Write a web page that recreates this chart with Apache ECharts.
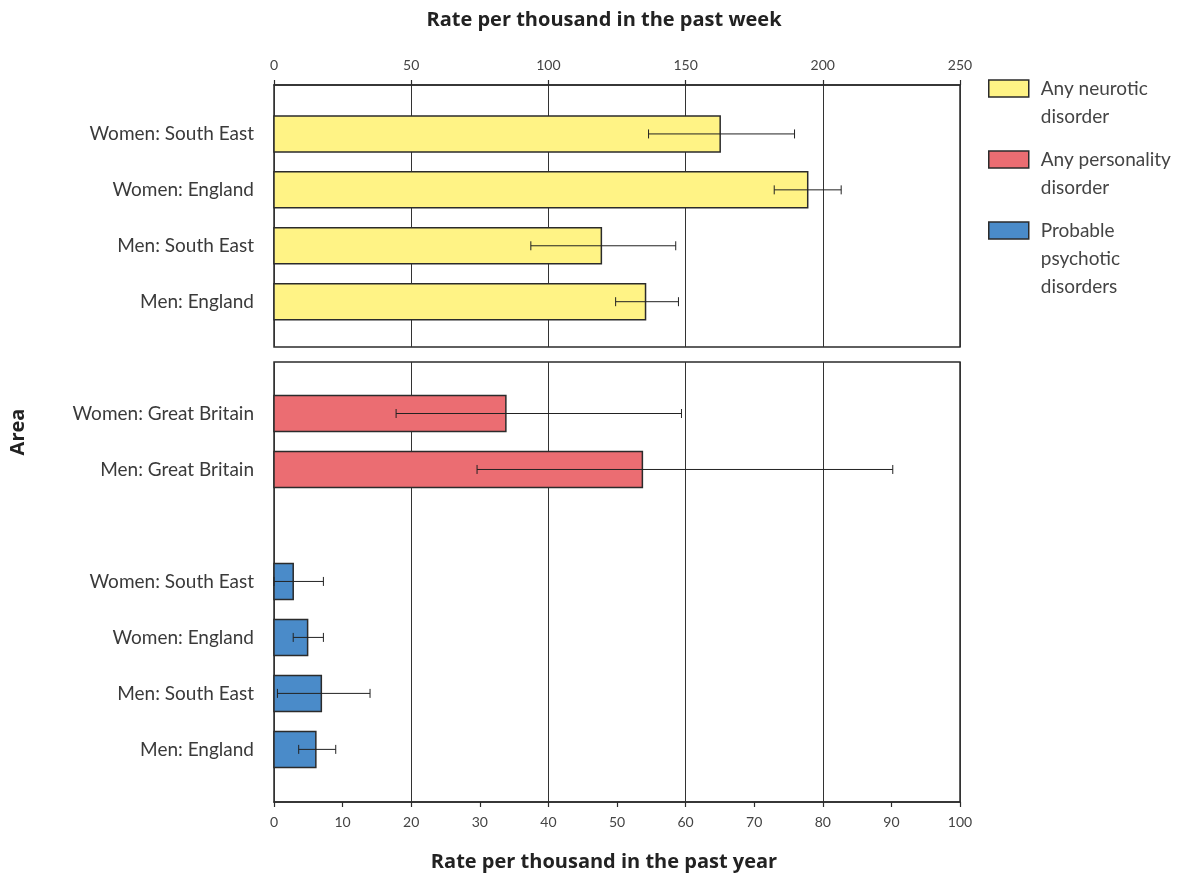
<!DOCTYPE html>
<html>
<head>
<meta charset="utf-8">
<script src="https://cdn.jsdelivr.net/npm/echarts@6/dist/echarts.min.js"></script>
<style>html,body{margin:0;padding:0;background:#fff;}#main{width:1189px;height:877px;}</style>
</head>
<body>
<div id="main"></div>
<script>
// ---- data ----
var neuroticCats = ['Women: South East', 'Women: England', 'Men: South East', 'Men: England'];
var neuroticVals = [162.6, 194.5, 119.3, 135.4];
var neuroticLow  = [136.5, 182.3, 93.6, 124.5];
var neuroticHigh = [189.7, 206.7, 146.4, 147.4];

var personalityCats = ['Women: Great Britain', 'Men: Great Britain'];
var personalityVals = [33.8, 53.7];
var personalityLow  = [17.8, 29.6];
var personalityHigh = [59.4, 90.2];

var psychoticCats = ['Women: South East', 'Women: England', 'Men: South East', 'Men: England'];
var psychoticVals = [2.8, 4.9, 6.9, 6.1];
var psychoticLow  = [0, 2.8, 0.5, 3.6];
var psychoticHigh = [7.2, 7.2, 14.0, 9.0];

var weekTicks = [0, 50, 100, 150, 200, 250];
var yearTicks = [0, 10, 20, 30, 40, 50, 60, 70, 80, 90, 100];

var seriesNames = ['Any neurotic disorder', 'Any personality disorder', 'Probable psychotic disorders'];
var legendLines = {
  'Any neurotic disorder': ['Any neurotic', 'disorder'],
  'Any personality disorder': ['Any personality', 'disorder'],
  'Probable psychotic disorders': ['Probable', 'psychotic', 'disorders']
};

// ---- layout helpers ----
var FONT = 'Lato, "Open Sans", sans-serif';
var TITLE_FONT = '"Open Sans", Lato, sans-serif';
var EDGE = '#2b2b2b';

// slot positions: top panel 0..3 ; bottom panel personality 0..1, gap, psychotic 3..6
var topPos = neuroticCats.map(function (c, i) { return i; });
var persPos = personalityCats.map(function (c, i) { return i; });
var psyPos = psychoticCats.map(function (c, i) { return i + personalityCats.length + 1; });
var bottomLabels = {};
persPos.forEach(function (p, i) { bottomLabels[p] = personalityCats[i]; });
psyPos.forEach(function (p, i) { bottomLabels[p] = psychoticCats[i]; });

function zip2(a, b) { return a.map(function (v, i) { return [v, b[i]]; }); }
function zip3(a, b, c) { return a.map(function (v, i) { return [v, b[i], c[i]]; }); }

function barRender(params, api) {
  var y = api.value(1);
  var s = api.coord([0, y]);
  var e = api.coord([api.value(0), y]);
  return {
    type: 'rect',
    shape: { x: s[0], y: s[1] - 18, width: e[0] - s[0], height: 36 },
    style: { fill: api.visual('color'), stroke: EDGE, lineWidth: 1.5 }
  };
}
function errRender(params, api) {
  var y = api.value(2);
  var p1 = api.coord([api.value(0), y]);
  var p2 = api.coord([api.value(1), y]);
  var h = 4.5;
  var st = { stroke: '#222', lineWidth: 1 };
  return {
    type: 'group',
    children: [
      { type: 'line', shape: { x1: p1[0], y1: p1[1], x2: p2[0], y2: p2[1] }, style: st },
      { type: 'line', shape: { x1: p1[0], y1: p1[1] - h, x2: p1[0], y2: p1[1] + h }, style: st },
      { type: 'line', shape: { x1: p2[0], y1: p2[1] - h, x2: p2[0], y2: p2[1] + h }, style: st }
    ]
  };
}

var colors = ['#fff385', '#eb6d72', '#4a8bc9'];

// legend: icon aligned with first text line -> pad with (n-1) leading empty lines
function makeLegend(name, iconTop) {
  var lines = legendLines[name];
  var n = lines.length, L = 28, ih = 17;
  var top = iconTop + ih / 2 - (2 * n - 1) * L / 2;
  return {
    data: [{ name: name, icon: 'rect' }],
    orient: 'vertical',
    left: 988,
    top: top,
    padding: 0,
    itemWidth: 40,
    itemHeight: ih,
    itemGap: 0,
    selectedMode: false,
    itemStyle: { borderColor: EDGE, borderWidth: 1.5 },
    formatter: function (nm) {
      var l = legendLines[nm];
      return new Array(l.length).join('\u00a0\n') + l.join('\n');
    },
    textStyle: { fontFamily: FONT, fontSize: 19, lineHeight: L, color: '#444', padding: [0, 0, 0, 7] }
  };
}

var option = {
  animation: false,
  backgroundColor: '#fff',
  legend: [
    makeLegend(seriesNames[0], 80),
    makeLegend(seriesNames[1], 151),
    makeLegend(seriesNames[2], 222)
  ],
  grid: [
    { left: 274, width: 686, top: 85, height: 262, show: true, borderColor: EDGE, borderWidth: 1.5, backgroundColor: 'transparent' },
    { left: 274, width: 686, top: 362, height: 440, show: true, borderColor: EDGE, borderWidth: 1.5, backgroundColor: 'transparent' }
  ],
  xAxis: [
    {
      gridIndex: 0, type: 'value', position: 'top',
      min: weekTicks[0], max: weekTicks[weekTicks.length - 1], interval: weekTicks[1] - weekTicks[0],
      axisLine: { show: true, onZero: false, lineStyle: { color: EDGE, width: 1.5 } },
      axisTick: { show: true, inside: false, length: 5, lineStyle: { color: EDGE, width: 1.2 } },
      axisLabel: { margin: 13, fontFamily: FONT, fontSize: 14, color: '#444' },
      splitLine: { show: true, lineStyle: { color: '#333', width: 1 } }
    },
    {
      gridIndex: 1, type: 'value', position: 'bottom',
      min: yearTicks[0], max: yearTicks[yearTicks.length - 1], interval: yearTicks[1] - yearTicks[0],
      axisLine: { show: true, onZero: false, lineStyle: { color: EDGE, width: 1.5 } },
      axisTick: { show: true, inside: false, length: 5, lineStyle: { color: EDGE, width: 1.2 } },
      axisLabel: { margin: 13, fontFamily: FONT, fontSize: 14, color: '#444' },
      splitLine: { show: false }
    },
    {
      gridIndex: 1, type: 'value', position: 'bottom',
      min: yearTicks[0], max: yearTicks[yearTicks.length - 1], interval: (yearTicks[1] - yearTicks[0]) * 2,
      axisLine: { show: false, onZero: false }, axisTick: { show: false }, axisLabel: { show: false },
      splitLine: { show: true, lineStyle: { color: '#333', width: 1 } }
    }
  ],
  yAxis: [
    {
      gridIndex: 0, type: 'value', inverse: true, min: -0.875, max: 3.81,
      axisLine: { show: false, onZero: false }, axisTick: { show: false }, splitLine: { show: false },
      axisLabel: {
        customValues: topPos, margin: 20, fontFamily: FONT, fontSize: 19, color: '#3a3a3a',
        formatter: function (v) { return neuroticCats[Math.round(v)] || ''; }
      }
    },
    {
      gridIndex: 1, type: 'value', inverse: true, min: -0.92, max: 6.94,
      axisLine: { show: false, onZero: false }, axisTick: { show: false }, splitLine: { show: false },
      axisLabel: {
        customValues: persPos.concat(psyPos), margin: 20, fontFamily: FONT, fontSize: 19, color: '#3a3a3a',
        formatter: function (v) { return bottomLabels[Math.round(v)] || ''; }
      }
    }
  ],
  graphic: [
    { type: 'text', style: { text: 'Rate per thousand in the past week', x: 604, y: 20, align: 'center', verticalAlign: 'middle', font: 'bold 20px ' + TITLE_FONT, fill: '#222' } },
    { type: 'text', style: { text: 'Rate per thousand in the past year', x: 604, y: 862, align: 'center', verticalAlign: 'middle', font: 'bold 20px ' + TITLE_FONT, fill: '#222' } },
    { type: 'text', x: 18, y: 432, rotation: Math.PI / 2, style: { text: 'Area', x: 0, y: 0, align: 'center', verticalAlign: 'middle', font: 'bold 20px ' + TITLE_FONT, fill: '#222' } }
  ],
  series: [
    {
      name: seriesNames[0], type: 'custom', xAxisIndex: 0, yAxisIndex: 0,
      itemStyle: { color: colors[0], borderColor: EDGE, borderWidth: 1.5 },
      renderItem: barRender, encode: { x: 0, y: 1 }, data: zip2(neuroticVals, topPos), z: 3
    },
    {
      name: seriesNames[1], type: 'custom', xAxisIndex: 1, yAxisIndex: 1,
      itemStyle: { color: colors[1], borderColor: EDGE, borderWidth: 1.5 },
      renderItem: barRender, encode: { x: 0, y: 1 }, data: zip2(personalityVals, persPos), z: 3
    },
    {
      name: seriesNames[2], type: 'custom', xAxisIndex: 1, yAxisIndex: 1,
      itemStyle: { color: colors[2], borderColor: EDGE, borderWidth: 1.5 },
      renderItem: barRender, encode: { x: 0, y: 1 }, data: zip2(psychoticVals, psyPos), z: 3
    },
    {
      name: 'err-neurotic', type: 'custom', xAxisIndex: 0, yAxisIndex: 0,
      renderItem: errRender, encode: { x: [0, 1], y: 2 }, data: zip3(neuroticLow, neuroticHigh, topPos), z: 5
    },
    {
      name: 'err-personality', type: 'custom', xAxisIndex: 1, yAxisIndex: 1,
      renderItem: errRender, encode: { x: [0, 1], y: 2 }, data: zip3(personalityLow, personalityHigh, persPos), z: 5
    },
    {
      name: 'err-psychotic', type: 'custom', xAxisIndex: 1, yAxisIndex: 1,
      renderItem: errRender, encode: { x: [0, 1], y: 2 }, data: zip3(psychoticLow, psychoticHigh, psyPos), z: 5
    }
  ]
};

var chart = echarts.init(document.getElementById('main'), null, { renderer: 'canvas' });
chart.setOption(option);
</script>
</body>
</html>
